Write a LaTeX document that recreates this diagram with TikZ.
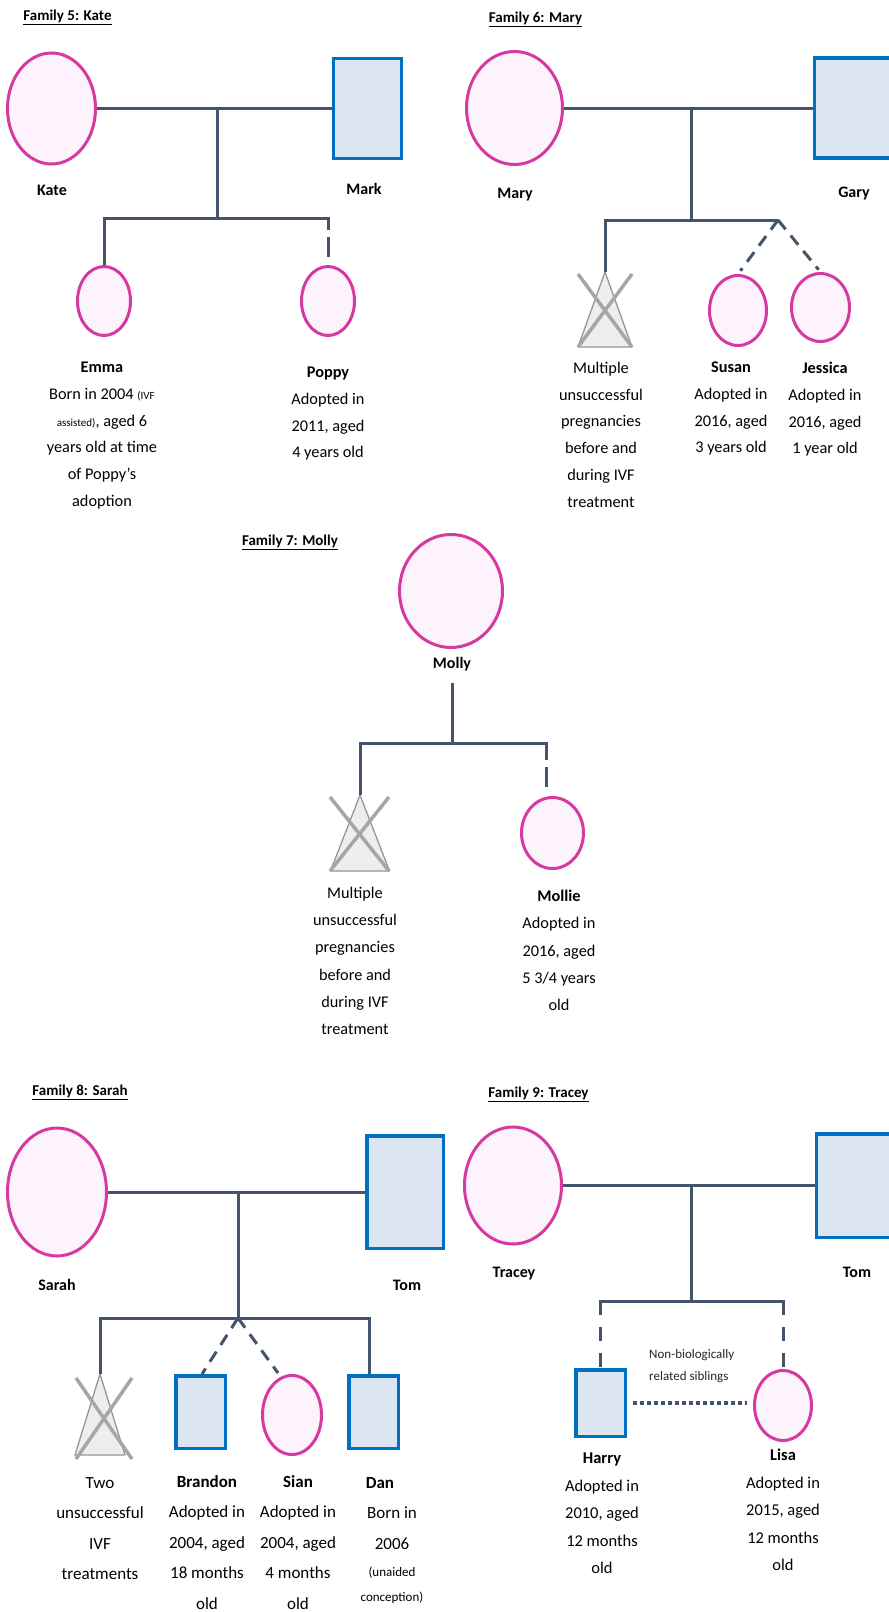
\documentclass[tikz,border=0pt]{standalone}
\usepackage{fontspec}
\setmainfont{Carlito}
\usetikzlibrary{shapes.geometric}
\definecolor{femline}{RGB}{214,58,160}
\definecolor{femfill}{RGB}{253,243,252}
\definecolor{maleline}{RGB}{0,112,192}
\definecolor{malefill}{RGB}{220,230,242}
\definecolor{relline}{RGB}{68,84,106}
\definecolor{lossline}{RGB}{150,150,150}
\definecolor{lossfill}{RGB}{238,238,238}
\definecolor{crossline}{RGB}{166,166,166}
\begin{document}
\begin{tikzpicture}[x=1pt,y=-1pt,
female/.style={ellipse,draw=femline,fill=femfill,line width=3pt,inner sep=0pt},
male/.style={rectangle,draw=maleline,fill=malefill,line width=3.5pt,inner sep=0pt},
rel/.style={draw=relline,line width=3pt},
adopt/.style={rel,dash pattern=on 12pt off 8pt},
sibdots/.style={draw=relline,line width=4pt,dash pattern=on 4pt off 3pt},
loss/.style={draw=lossline,fill=lossfill,line width=1.3pt,line join=round},
lossx/.style={draw=crossline,line width=3.5pt},
famtitle/.style={font=\fontsize{15}{18}\selectfont\bfseries,inner sep=0pt,anchor=base},
who/.style={font=\fontsize{16}{19}\selectfont\bfseries,inner sep=0pt,anchor=base},
info/.style={align=center,inner sep=0pt,anchor=north,font=\fontsize{16.3}{26.7}\selectfont}]
\clip (0,0) rectangle (889,1612);
\fill[white] (0,0) rectangle (889,1612);
\node[famtitle] (t5) at (67.5,20) {\underline{Family 5: Kate}};
\node[female,minimum width=88,minimum height=111] (kate) at (51.5,108.5) {};
\node[male,minimum width=68,minimum height=100] (mark) at (367.5,108.5) {};
\draw[rel] (kate) -- (mark);
\coordinate (f5m) at (217,108.5);
\coordinate (f5s) at (217,218);
\draw[rel] (f5m) -- (f5s);
\node[female,minimum width=53,minimum height=69] (emma) at (104,301) {};
\node[female,minimum width=53,minimum height=69] (poppy) at (328,301) {};
\draw[rel] (emma.north) |- (f5s) -- ([xshift=1.5pt]f5s -| poppy.north);
\draw[rel,dash pattern=on 12pt off 7pt on 20pt off 30pt] (f5s -| poppy.north) -- ([yshift=8pt]poppy.north);
\node[who] (katename) at (52,195) {Kate};
\node[who] (markname) at (364,194) {Mark};
\node[info] (emmainfo) at (102,362) {\textbf{Emma}\\Born in 2004 {\fontsize{11}{13}\selectfont(IVF}\\{\fontsize{11}{13}\selectfont assisted)}, aged 6\\years old at time\\of Poppy’s\\adoption};
\node[info] (poppyinfo) at (328,367) {\textbf{Poppy}\\Adopted in\\2011, aged\\4 years old};
\node[famtitle] (t6) at (535.5,22) {\underline{Family 6: Mary}};
\node[female,minimum width=96,minimum height=113] (mary) at (514.5,108) {};
\node[male,minimum width=77,minimum height=100] (gary) at (853,108) {};
\draw[rel] (mary) -- (gary);
\coordinate (f6m) at (691,108);
\coordinate (f6s) at (691,220);
\coordinate (f6a) at (778,220);
\coordinate (f6loss) at (605,272);
\draw[rel] (f6m) -- (f6s);
\draw[loss] (f6loss) -- ++(27,75) -- ++(-54,0) -- cycle;
\draw[lossx] ([shift={(-27,2)}]f6loss) -- ([shift={(27,75)}]f6loss);
\draw[lossx] ([shift={(27,2)}]f6loss) -- ([shift={(-27,75)}]f6loss);
\draw[rel] (f6loss) |- (f6a);
\node[female,minimum width=57,minimum height=70] (susan) at (738,310.5) {};
\node[female,minimum width=58,minimum height=68] (jessica) at (820.5,307.5) {};
\draw[adopt,shorten >=4pt] (f6a) -- (susan.north);
\draw[adopt,shorten >=3pt] (f6a) -- (jessica.north);
\node[who] (maryname) at (515,198) {Mary};
\node[who] (garyname) at (854,197) {Gary};
\node[info] (f6lossinfo) at (601,362) {Multiple\\unsuccessful\\pregnancies\\before and\\during IVF\\treatment};
\node[info] (susaninfo) at (731,362) {\textbf{Susan}\\Adopted in\\2016, aged\\3 years old};
\node[info] (jessicainfo) at (825,362) {\textbf{Jessica}\\Adopted in\\2016, aged\\1 year old};
\node[famtitle] (t7) at (290,545) {\underline{Family 7: Molly}};
\node[female,minimum width=103,minimum height=113] (molly) at (451,591) {};
\node[who] (mollyname) at (452,668) {Molly};
\coordinate (f7m) at (452,683);
\coordinate (f7s) at (452,743);
\coordinate (f7a) at (546,743);
\coordinate (f7ae) at (546,787);
\coordinate (f7loss) at (360,795);
\draw[rel] (f7m) -- (f7s);
\draw[loss] (f7loss) -- ++(29.5,76) -- ++(-59,0) -- cycle;
\draw[lossx] ([shift={(-30,2)}]f7loss) -- ([shift={(29,76)}]f7loss);
\draw[lossx] ([shift={(29,2)}]f7loss) -- ([shift={(-30,76)}]f7loss);
\draw[rel] (f7loss) |- ([xshift=1.5pt]f7a);
\draw[rel,dash pattern=on 17pt off 7pt on 20pt off 30pt] (f7a) -- (f7ae);
\node[female,minimum width=62,minimum height=71] (mollie) at (552.5,833) {};
\node[info,font=\fontsize{16.3}{27.2}\selectfont] (f7lossinfo) at (355,887) {Multiple\\unsuccessful\\pregnancies\\before and\\during IVF\\treatment};
\node[info,font=\fontsize{16.3}{27.2}\selectfont] (mollieinfo) at (559,890) {\textbf{Mollie}\\Adopted in\\2016, aged\\5 3/4 years\\old};
\node[famtitle] (t8) at (80,1095) {\underline{Family 8: Sarah}};
\node[female,minimum width=99,minimum height=128] (sarah) at (57,1192) {};
\node[male,minimum width=76.5,minimum height=112.5] (tomA) at (405,1192) {};
\draw[rel] (sarah) -- (tomA);
\coordinate (f8m) at (238,1192);
\coordinate (f8s) at (238,1318);
\coordinate (f8loss) at (100,1374);
\draw[rel] (f8m) -- (f8s);
\draw[loss] (f8loss) -- ++(25,81) -- ++(-50,0) -- cycle;
\draw[lossx] ([shift={(-24,4)}]f8loss) -- ([shift={(32,85)}]f8loss);
\draw[lossx] ([shift={(32,4)}]f8loss) -- ([shift={(-24,85)}]f8loss);
\node[male,minimum width=49.5,minimum height=72.5] (brandon) at (200.5,1412) {};
\node[female,minimum width=59,minimum height=79] (sian) at (292,1415) {};
\node[male,minimum width=49.5,minimum height=72.5] (dan) at (373.5,1412) {};
\draw[rel] (f8loss) |- (f8s) -| ([xshift=-4.5pt]dan.north);
\draw[adopt] (f8s) -- ([xshift=1.5pt]brandon.north);
\draw[adopt] (f8s) -- ([shift={(-14,-1)}]sian.north);
\node[who] (sarahname) at (57,1290) {Sarah};
\node[who] (tomAname) at (407,1290) {Tom};
\node[info,font=\fontsize{17}{30.5}\selectfont] (f8lossinfo) at (100,1477) {Two\\unsuccessful\\IVF\\treatments};
\node[info,font=\fontsize{17}{30.5}\selectfont] (brandoninfo) at (207,1475) {\textbf{Brandon}\\Adopted in\\2004, aged\\18 months\\old};
\node[info,font=\fontsize{17}{30.5}\selectfont] (sianinfo) at (298,1475) {\textbf{Sian}\\Adopted in\\2004, aged\\4 months\\old};
\node[info,font=\fontsize{17}{30.5}\selectfont] (daninfo) at (392,1477) {\textbf{Dan}\hspace*{24pt}\\Born in\\2006\\[-3.5pt]{\fontsize{13}{15}\selectfont(unaided}\\[-5.5pt]{\fontsize{13}{15}\selectfont conception)}};
\node[famtitle] (t9) at (538.5,1097) {\underline{Family 9: Tracey}};
\node[female,minimum width=97,minimum height=117] (tracey) at (513,1185.5) {};
\node[male,minimum width=77,minimum height=103.5] (tomB) at (855,1185.5) {};
\draw[rel] (tracey) -- (tomB);
\coordinate (f9m) at (691,1185.5);
\coordinate (f9s) at (691,1301);
\draw[rel] (f9m) -- (f9s);
\node[male,minimum width=49.5,minimum height=66.5] (harry) at (600.5,1403) {};
\node[female,minimum width=57,minimum height=70] (lisa) at (783,1405.5) {};
\draw[rel] ([xshift=-1.5pt]harry.north |- f9s) -- ([xshift=1.5pt]lisa.north |- f9s);
\draw[rel,dash pattern=on 14pt off 12pt] (harry.north |- f9s) -- (harry.north);
\draw[rel,dash pattern=on 14pt off 12pt] (lisa.north |- f9s) -- (lisa.north);
\draw[sibdots] ([xshift=6pt]harry.east) -- ([xshift=-6pt]lisa.west |- harry.east);
\node[anchor=north west,align=left,font=\fontsize{13}{22.6}\selectfont,inner sep=0pt,text=black!85] (sibnote) at (649,1349) {Non-biologically\\related siblings};
\node[who] (traceyname) at (514,1277) {Tracey};
\node[who] (tomBname) at (857,1277) {Tom};
\node[info,font=\fontsize{16.5}{27.5}\selectfont] (harryinfo) at (602,1453) {\textbf{Harry}\\Adopted in\\2010, aged\\12 months\\old};
\node[info,font=\fontsize{16.5}{27.5}\selectfont] (lisainfo) at (783,1449) {\textbf{Lisa}\\Adopted in\\2015, aged\\12 months\\old};
\end{tikzpicture}
\end{document}
